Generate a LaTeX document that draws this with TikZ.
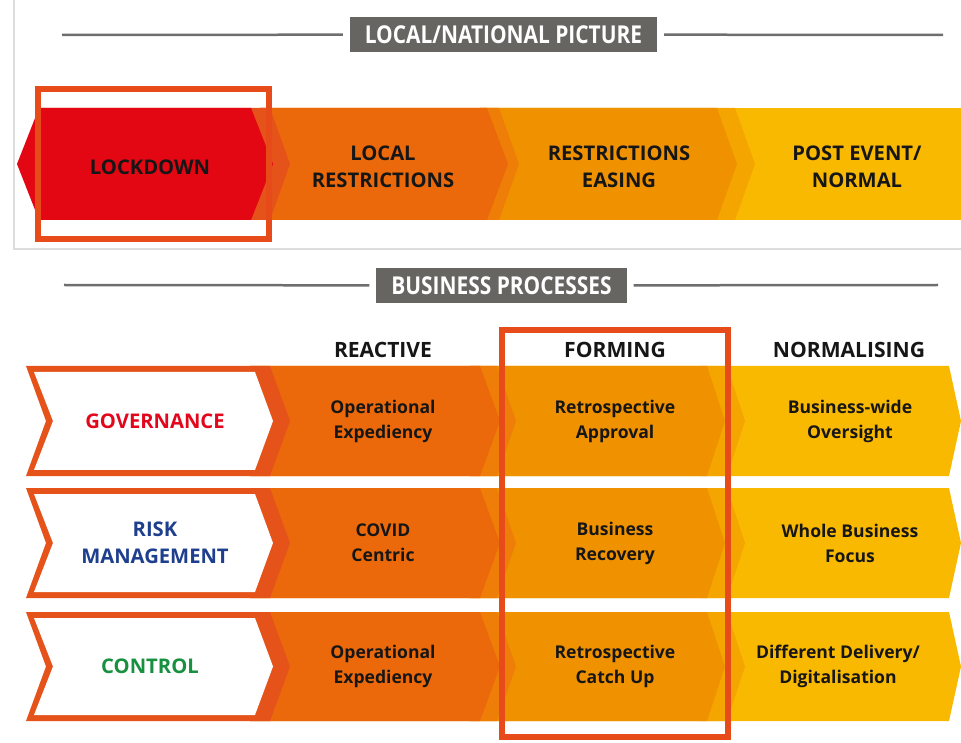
\documentclass[tikz,border=0pt]{standalone}
\usepackage{fontspec}
\setmainfont{Open Sans}
\newfontfamily\headfont[FakeStretch=0.85]{Open Sans}
\usetikzlibrary{positioning}
\definecolor{lockred}{HTML}{E30613}
\definecolor{darkorg}{HTML}{E5521A}
\definecolor{orgA}{HTML}{EB690B}
\definecolor{stripeAB}{HTML}{EF7E08}
\definecolor{orgB}{HTML}{F09100}
\definecolor{stripeBC}{HTML}{F5A500}
\definecolor{ylw}{HTML}{F9B900}
\definecolor{framecol}{HTML}{E84B1A}
\definecolor{headgrey}{HTML}{666561}
\definecolor{rulegrey}{HTML}{6E6E6E}
\definecolor{boxgrey}{HTML}{DDDDDD}
\definecolor{txtblack}{HTML}{161616}
\definecolor{govred}{HTML}{E2071B}
\definecolor{riskblue}{HTML}{1E3F8E}
\definecolor{ctrlgreen}{HTML}{17903F}

\begin{document}
\begin{tikzpicture}[x=0.02cm, y=-0.02cm]
    \tikzset{
        band/.style = {font=\bfseries\fontsize{11.5}{15.3}\selectfont, align=center, text=txtblack},
        cell/.style = {font=\bfseries\fontsize{10}{14.2}\selectfont, align=center, text=txtblack},
        colhead/.style = {font=\bfseries\fontsize{12}{14}\selectfont, text=txtblack},
        rowname/.style = {font=\bfseries\fontsize{11.5}{15.3}\selectfont, align=center},
        headbox/.style = {fill=headgrey, text=white, font=\headfont\bfseries\fontsize{14}{16}\selectfont,
                          inner xsep=0.3cm, inner ysep=0pt, minimum height=0.7cm, outer xsep=0.14cm, outer ysep=0pt},
        rule/.style = {line width=0.05cm, rulegrey},
        frame/.style = {line width=0.12cm, framecol}
    }
    \useasboundingbox (0,0) rectangle (961,743);

    % local / national picture
    \draw[line width=0.03cm, boxgrey] (14,0) -- (14,249) -- (961,249);
    \node (natpic) [headbox] at (503.5,34.5) {LOCAL/NATIONAL PICTURE};
    \coordinate (natL) at (62,35);
    \coordinate (natR) at (943,35);
    \draw[rule] (natL) -- (natpic);
    \draw[rule] (natpic) -- (natR);

    \fill[ylw] (700,108) rectangle (961,220);
    \fill[stripeBC] (480,108) -- (735,108) -- (755,164) -- (735,220) -- (480,220) -- cycle;
    \fill[orgB] (480,108) -- (717,108) -- (737,164) -- (717,220) -- (480,220) -- cycle;
    \fill[stripeAB] (260,108) -- (499,108) -- (519,164) -- (499,220) -- (260,220) -- cycle;
    \fill[orgA] (260,108) -- (487,108) -- (508,164) -- (487,220) -- (260,220) -- cycle;
    \fill[darkorg] (39,108) -- (270,108) -- (290,164) -- (270,220) -- (39,220) -- cycle;
    \fill[lockred] (17,164) -- (39,108) -- (251,108) -- (273,164) -- (251,220) -- (39,220) -- cycle;

    \node (lock) [band] at (150,167) {LOCKDOWN};
    \node (localr) [band] at (383,167) {LOCAL\\RESTRICTIONS};
    \node (easing) [band] at (619,167) {RESTRICTIONS\\EASING};
    \node (post) [band] at (857,167) {POST EVENT/\\NORMAL};
    \draw[frame] (38,89) rectangle (269,239);

    % business processes
    \node (bizproc) [headbox] at (501.5,285.5) {BUSINESS PROCESSES};
    \coordinate (bizL) at (64,285);
    \coordinate (bizR) at (938,285);
    \draw[rule] (bizL) -- (bizproc);
    \draw[rule] (bizproc) -- (bizR);

    \node (reactive) [colhead] at (383,350) {REACTIVE};
    \node (forming) [colhead] at (615,350) {FORMING};
    \node (normal) [colhead] at (849,350) {NORMALISING};

    \foreach \yt/\yb in {366/476, 488/598, 612/721} {
        \pgfmathsetmacro\ym{(\yt+\yb)/2}
        \fill[ylw] (700,\yt) -- (949,\yt) -- (961,\ym) -- (949,\yb) -- (700,\yb) -- cycle;
        \fill[stripeBC] (470,\yt) -- (727,\yt) -- (745,\ym) -- (727,\yb) -- (470,\yb) -- cycle;
        \fill[orgB] (470,\yt) -- (707,\yt) -- (725,\ym) -- (707,\yb) -- (470,\yb) -- cycle;
        \fill[stripeAB] (250,\yt) -- (497,\yt) -- (516,\ym) -- (497,\yb) -- (250,\yb) -- cycle;
        \fill[orgA] (250,\yt) -- (480,\yt) -- (500,\ym) -- (480,\yb) -- (250,\yb) -- cycle;
        \fill[darkorg] (26,\yt) -- (270,\yt) -- (290,\ym) -- (270,\yb) -- (26,\yb) -- (46,\ym) -- cycle;
        \fill[white] (34,{\yt+6}) -- (255,{\yt+6}) -- (273,\ym) -- (255,{\yb-6}) -- (34,{\yb-6}) -- (53,\ym) -- cycle;
    }

    \node (gov) [rowname, text=govred] at (155,421) {GOVERNANCE};
    \node (risk) [rowname, text=riskblue] at (155,543) {RISK\\MANAGEMENT};
    \node (ctrl) [rowname, text=ctrlgreen] at (150,666) {CONTROL};

    \node (govR) [cell] at (383,421) {Operational\\Expediency};
    \node (govF) [cell] at (615,421) {Retrospective\\Approval};
    \node (govN) [cell] at (850,421) {Business-wide\\Oversight};
    \node (riskR) [cell] at (383,543) {COVID\\Centric};
    \node (riskF) [cell] at (615,543) {Business\\Recovery};
    \node (riskN) [cell] at (850,543) {Whole Business\\Focus};
    \node (ctrlR) [cell] at (383,666) {Operational\\Expediency};
    \node (ctrlF) [cell] at (615,666) {Retrospective\\Catch Up};
    \node (ctrlN) [cell] at (838,666) {Different Delivery/\\Digitalisation};

    \draw[frame] (502,330) rectangle (728,737);
\end{tikzpicture}
\end{document}
